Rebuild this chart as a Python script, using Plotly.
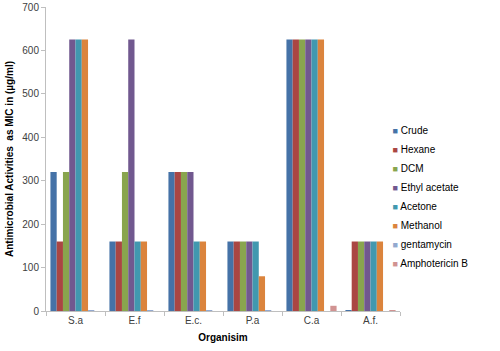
import plotly.graph_objects as go

categories = ["S.a", "E.f", "E.c.", "P.a", "C.a", "A.f."]
series_names = ["Crude", "Hexane", "DCM", "Ethyl acetate", "Acetone", "Methanol", "gentamycin", "Amphotericin B"]
crude = [320, 160, 320, 160, 625, 1]
hexane = [160, 160, 320, 160, 625, 160]
dcm = [320, 320, 320, 160, 625, 160]
ethyl_acetate = [625, 625, 320, 160, 625, 160]
acetone = [625, 160, 160, 160, 625, 160]
methanol = [625, 160, 160, 80, 625, 160]
gentamycin = [2, 2, 2, 2, 0, 0]
amphotericin_b = [0, 0, 0, 0, 12, 1]
series_values = [crude, hexane, dcm, ethyl_acetate, acetone, methanol, gentamycin, amphotericin_b]
colors = ["#4572A7", "#AA4643", "#89A54E", "#71588F", "#4198AF", "#DB843D", "#93A9CF", "#D19392"]

fig = go.Figure()
for name, vals, col in zip(series_names, series_values, colors):
    fig.add_trace(go.Bar(x=categories, y=vals, name=name, showlegend=False,
                         marker=dict(color=col, line=dict(width=0))))
# legend entries: small coloured squares next to the names
for name, col in zip(series_names, colors):
    fig.add_trace(go.Scatter(x=[None], y=[None], mode="markers", showlegend=True,
                             name=f'<span style="color:{col}; font-size:9px">■</span> {name}',
                             marker=dict(color="rgba(0,0,0,0)", size=1,
                                         line=dict(width=0, color="rgba(0,0,0,0)"))))

fig.update_layout(
    width=500, height=351,
    barmode="group", bargap=0.15, bargroupgap=0,
    plot_bgcolor="white", paper_bgcolor="white",
    margin=dict(l=46, r=100, t=7, b=40),
    font=dict(family="Liberation Sans", size=10, color="#404040"),
    legend=dict(x=0.866, y=0.375, xanchor="left", yanchor="middle",
                font=dict(size=10, color="#000000"), itemwidth=30,
                bgcolor="rgba(0,0,0,0)"),
    showlegend=True,
)
fig.update_xaxes(
    automargin=False,
    showline=True, linecolor="#BFBFBF", linewidth=1,
    ticks="outside", tickson="boundaries", ticklen=4, tickcolor="#BFBFBF",
    tickfont=dict(size=10, color="#404040"),
    title=dict(text="<b>Organisim</b>", font=dict(size=10, color="#000000"), standoff=8),
)
fig.update_yaxes(
    automargin=False,
    range=[0, 700], dtick=100, showgrid=False, zeroline=False,
    showline=True, linecolor="#BFBFBF", linewidth=1,
    ticks="outside", ticklen=4, tickcolor="#BFBFBF",
    tickfont=dict(size=10, color="#404040"),
    title=dict(text="<b>Antimicrobial Activities  as MIC in (µg/ml)</b>", font=dict(size=10, color="#000000"), standoff=6),
)
fig.write_html("out.html", config={"displayModeBar": False},
               post_script="document.body.style.margin='0';")
